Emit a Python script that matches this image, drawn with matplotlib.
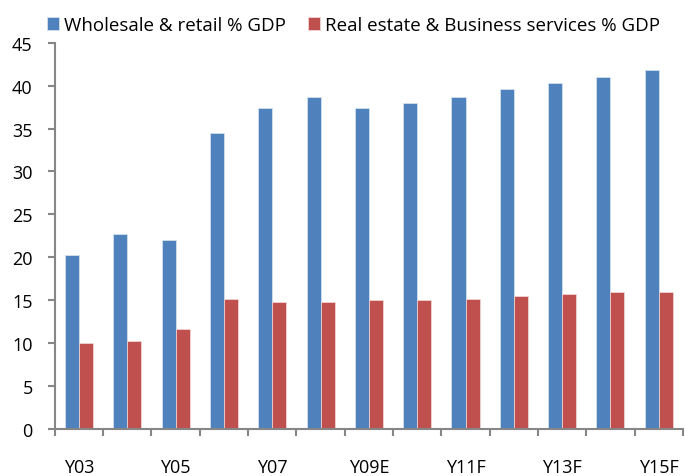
import matplotlib.pyplot as plt
import numpy as np

years = ['Y03', 'Y04', 'Y05', 'Y06', 'Y07', 'Y08', 'Y09E', 'Y10F',
         'Y11F', 'Y12F', 'Y13F', 'Y14F', 'Y15F']
wholesale = [20.3, 22.7, 22.0, 34.5, 37.4, 38.7, 37.4, 38.0, 38.7, 39.6, 40.3, 41.0, 41.8]
real_estate = [10.0, 10.3, 11.7, 15.2, 14.8, 14.8, 15.0, 15.0, 15.2, 15.5, 15.7, 15.9, 15.9]

plt.rcParams['font.family'] = ['Open Sans', 'DejaVu Sans']

fig = plt.figure(figsize=(6.85, 4.77), dpi=100)
ax = fig.add_axes([0.080, 0.0985, 0.917, 0.81])

x = np.arange(len(years))
w = 0.29
ax.bar(x - w/2, wholesale, w, color='#4F81BD', edgecolor='#dce6f2', linewidth=0.5,
       label='Wholesale & retail % GDP')
ax.bar(x + w/2, real_estate, w, color='#C0504D', edgecolor='#f2dcdb', linewidth=0.5,
       label='Real estate & Business services % GDP')

ax.set_xlim(-0.5, len(years) - 0.5)
ax.set_ylim(0, 45)
ax.set_yticks(range(0, 46, 5))

# tick marks between categories, labels every other category
ax.set_xticks(np.arange(-0.5, len(years), 1))
ax.set_xticklabels([])
ax.set_xticks(x[::2], minor=True)
ax.set_xticklabels(years[::2], minor=True)
ax.tick_params(axis='x', which='major', direction='out', length=5, width=1.5, color='#868686')
ax.tick_params(axis='x', which='minor', length=0, pad=21, labelsize=13)
ax.tick_params(axis='y', direction='out', length=5, width=1.5, color='#868686',
               labelsize=13, pad=11)

for s in ['top', 'right']:
    ax.spines[s].set_visible(False)
for s in ['left', 'bottom']:
    ax.spines[s].set_color('#868686')
    ax.spines[s].set_linewidth(1.5)

fig.legend(loc='upper left', bbox_to_anchor=(0.044, 1.0), ncol=2, frameon=False,
           fontsize=13.5, handlelength=0.65, handleheight=0.65, handletextpad=0.27,
           columnspacing=1.17)

fig.savefig('out.png', dpi=100)
